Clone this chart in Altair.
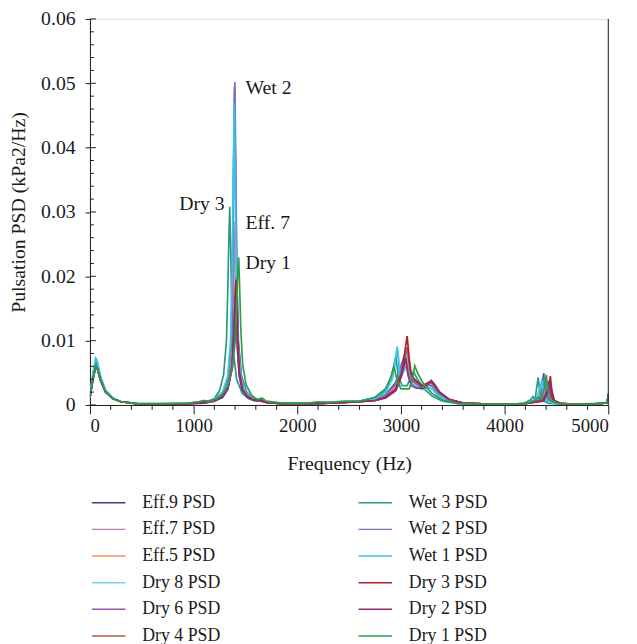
import altair as alt
import pandas as pd

SERIES = ["Eff.9 PSD", "Eff.7 PSD", "Eff.5 PSD", "Dry 8 PSD", "Dry 6 PSD", "Dry 4 PSD",
          "Wet 3 PSD", "Wet 2 PSD", "Wet 1 PSD", "Dry 3 PSD", "Dry 2 PSD", "Dry 1 PSD"]
COLORS = ["#33408f", "#c874b0", "#f4945a", "#74d4ea", "#a352b8", "#b8574e",
          "#2a9a80", "#7275ba", "#38c3ea", "#b0202c", "#8e2e74", "#2f9e48"]

EFF9 = [(0, 0.0012), (25, 0.004), (55, 0.0066), (70, 0.0062), (100, 0.0042), (150, 0.0022), (220, 0.0010),
        (300, 0.0005), (450, 0.0002), (700, 0.0001), (950, 0.0002), (1100, 0.0004), (1200, 0.0008),
        (1280, 0.0018), (1330, 0.0040), (1360, 0.0090), (1375, 0.020), (1385, 0.036), (1395, 0.0495),
        (1405, 0.036), (1415, 0.021), (1430, 0.010), (1460, 0.0045), (1510, 0.0020), (1580, 0.0009),
        (1650, 0.0008), (1700, 0.0004), (1850, 0.0002), (2100, 0.0002), (2300, 0.0003), (2450, 0.0004),
        (2600, 0.0005), (2750, 0.0009), (2850, 0.0016), (2950, 0.0035), (3000, 0.0060), (3040, 0.0080),
        (3070, 0.0055), (3100, 0.0040), (3200, 0.0028), (3270, 0.0032), (3300, 0.0030), (3350, 0.0020),
        (3450, 0.0008), (3600, 0.0003), (3900, 0.0001), (4200, 0.0002), (4330, 0.0010), (4360, 0.0030),
        (4378, 0.0049), (4395, 0.0028), (4420, 0.0008), (4500, 0.0002), (4800, 0.0001), (4990, 0.0003),
        (5000, 0.0017)]
EFF7 = [(0, 0.0012), (25, 0.0038), (55, 0.0063), (70, 0.006), (100, 0.0041), (150, 0.0021), (220, 0.001),
        (300, 0.0005), (450, 0.0002), (700, 0.0001), (950, 0.0002), (1100, 0.0004), (1200, 0.0007),
        (1280, 0.0015), (1330, 0.003), (1365, 0.0065), (1380, 0.013), (1390, 0.021), (1400, 0.0285),
        (1410, 0.021), (1420, 0.012), (1435, 0.0065), (1465, 0.003), (1510, 0.0015), (1580, 0.0008),
        (1650, 0.0007), (1700, 0.0004), (1850, 0.0002), (2100, 0.0002), (2300, 0.0003), (2450, 0.0004),
        (2600, 0.0005), (2750, 0.0008), (2850, 0.0014), (2950, 0.003), (3000, 0.005), (3050, 0.0070),
        (3080, 0.005), (3110, 0.0038), (3200, 0.0027), (3280, 0.0033), (3310, 0.003), (3360, 0.0019),
        (3450, 0.0008), (3600, 0.0003), (3900, 0.0001), (4200, 0.0002), (4340, 0.0008), (4390, 0.0025),
        (4410, 0.0035), (4425, 0.0022), (4450, 0.0007), (4520, 0.0002), (4800, 0.0001), (4990, 0.0003),
        (5000, 0.0016)]
EFF5 = [(0, 0.0011), (25, 0.0036), (55, 0.006), (70, 0.0058), (100, 0.004), (150, 0.002), (220, 0.001),
        (300, 0.0005), (450, 0.0002), (700, 0.0001), (950, 0.0002), (1100, 0.0004), (1200, 0.0007),
        (1280, 0.0014), (1330, 0.0028), (1370, 0.006), (1385, 0.010), (1395, 0.015), (1405, 0.018),
        (1415, 0.014), (1425, 0.009), (1440, 0.005), (1470, 0.0025), (1520, 0.0013), (1580, 0.0008),
        (1650, 0.0007), (1700, 0.0004), (1850, 0.0002), (2100, 0.0002), (2300, 0.0003), (2450, 0.0004),
        (2600, 0.0005), (2750, 0.0008), (2850, 0.0013), (2950, 0.0028), (3010, 0.0048), (3055, 0.0065),
        (3085, 0.0048), (3120, 0.0036), (3200, 0.0026), (3285, 0.0031), (3320, 0.0028), (3370, 0.0018),
        (3460, 0.0008), (3600, 0.0003), (3900, 0.0001), (4200, 0.0002), (4350, 0.0007), (4400, 0.0022),
        (4420, 0.003), (4435, 0.002), (4460, 0.0006), (4530, 0.0002), (4800, 0.0001), (4990, 0.0003),
        (5000, 0.0015)]
DRY8 = [(0, 0.0013), (25, 0.0045), (55, 0.0072), (70, 0.0068), (100, 0.0045), (150, 0.0023), (220, 0.0011),
        (300, 0.0005), (450, 0.0002), (700, 0.0001), (950, 0.0002), (1100, 0.0005), (1200, 0.0009),
        (1280, 0.002), (1330, 0.0045), (1357, 0.010), (1372, 0.020), (1382, 0.034), (1392, 0.046),
        (1402, 0.033), (1412, 0.019), (1427, 0.009), (1457, 0.004), (1510, 0.0018), (1580, 0.0009),
        (1650, 0.0009), (1700, 0.0004), (1850, 0.0002), (2100, 0.0002), (2300, 0.0003), (2450, 0.0004),
        (2600, 0.0005), (2750, 0.0009), (2850, 0.0018), (2920, 0.004), (2970, 0.0085), (2995, 0.005),
        (3020, 0.0065), (3050, 0.0083), (3080, 0.0055), (3110, 0.0038), (3200, 0.0026), (3280, 0.003),
        (3310, 0.0027), (3360, 0.0017), (3450, 0.0007), (3600, 0.0003), (3900, 0.0001), (4200, 0.0002),
        (4320, 0.0009), (4355, 0.0028), (4370, 0.0038), (4385, 0.0022), (4410, 0.0007), (4500, 0.0002),
        (4800, 0.0001), (4990, 0.0003), (5000, 0.0017)]
DRY6 = [(0, 0.0011), (25, 0.0037), (55, 0.0061), (70, 0.0058), (100, 0.004), (150, 0.002), (220, 0.001),
        (300, 0.0005), (450, 0.0002), (700, 0.0001), (950, 0.0002), (1100, 0.0003), (1200, 0.0006),
        (1280, 0.0012), (1330, 0.0025), (1370, 0.0055), (1385, 0.009), (1395, 0.013), (1405, 0.015),
        (1415, 0.012), (1425, 0.008), (1440, 0.0045), (1470, 0.0022), (1520, 0.0012), (1580, 0.0007),
        (1650, 0.0006), (1700, 0.0004), (1850, 0.0002), (2100, 0.0002), (2300, 0.0003), (2450, 0.0004),
        (2600, 0.0005), (2750, 0.0007), (2850, 0.0011), (2950, 0.0022), (3000, 0.0042), (3045, 0.0072),
        (3075, 0.0045), (3100, 0.0034), (3150, 0.0028), (3220, 0.0027), (3290, 0.0038), (3320, 0.0032),
        (3370, 0.002), (3460, 0.0009), (3600, 0.0003), (3900, 0.0001), (4200, 0.0002), (4360, 0.0007),
        (4405, 0.0022), (4425, 0.003), (4440, 0.0018), (4470, 0.0005), (4540, 0.0002), (4800, 0.0001),
        (4990, 0.0003), (5000, 0.0015)]
DRY4 = [(0, 0.0011), (25, 0.0036), (55, 0.006), (70, 0.0057), (100, 0.0039), (150, 0.002), (220, 0.001),
        (300, 0.0005), (450, 0.0002), (700, 0.0001), (950, 0.0002), (1100, 0.0004), (1200, 0.0007),
        (1280, 0.0013), (1330, 0.0025), (1375, 0.006), (1390, 0.011), (1400, 0.016), (1410, 0.020),
        (1420, 0.015), (1430, 0.0095), (1445, 0.005), (1475, 0.0024), (1520, 0.0013), (1580, 0.0008),
        (1650, 0.0007), (1700, 0.0004), (1850, 0.0002), (2100, 0.0002), (2300, 0.0003), (2450, 0.0004),
        (2600, 0.0005), (2750, 0.0007), (2850, 0.0012), (2950, 0.0024), (3010, 0.0048), (3060, 0.0090),
        (3085, 0.0055), (3110, 0.0040), (3200, 0.0028), (3290, 0.0035), (3320, 0.0030), (3370, 0.0019),
        (3460, 0.0008), (3600, 0.0003), (3900, 0.0001), (4200, 0.0002), (4380, 0.0006), (4425, 0.0024),
        (4440, 0.0035), (4455, 0.002), (4480, 0.0006), (4550, 0.0002), (4800, 0.0001), (4990, 0.0003),
        (5000, 0.0016)]
WET3 = [(0, 0.0012), (25, 0.0037), (55, 0.006), (70, 0.0058), (100, 0.004), (150, 0.0021), (220, 0.001),
        (300, 0.0005), (450, 0.0002), (700, 0.0002), (950, 0.0003), (1050, 0.0005), (1100, 0.0006),
        (1150, 0.0005), (1200, 0.001), (1250, 0.0022), (1290, 0.0048), (1317, 0.010), (1330, 0.018),
        (1340, 0.026), (1349, 0.0308), (1358, 0.024), (1368, 0.015), (1385, 0.008), (1415, 0.004),
        (1470, 0.0018), (1540, 0.0009), (1620, 0.0006), (1660, 0.0009), (1700, 0.0005), (1850, 0.0003),
        (2100, 0.0003), (2300, 0.0004), (2450, 0.0005), (2600, 0.0006), (2750, 0.0011), (2850, 0.0022),
        (2905, 0.0042), (2950, 0.0075), (2975, 0.0045), (3010, 0.0030), (3060, 0.0030), (3095, 0.0042),
        (3120, 0.0052), (3160, 0.0040), (3230, 0.0024), (3300, 0.0014), (3400, 0.0006), (3550, 0.0002),
        (3900, 0.0001), (4180, 0.0002), (4250, 0.0008), (4275, 0.0013), (4295, 0.0009), (4312, 0.0030),
        (4324, 0.0043), (4338, 0.0022), (4360, 0.0008), (4420, 0.0003), (4600, 0.0001), (4990, 0.0003),
        (5000, 0.0018)]
WET2 = [(0, 0.0012), (25, 0.0041), (55, 0.0067), (70, 0.0063), (100, 0.0043), (150, 0.0022), (220, 0.001),
        (300, 0.0005), (450, 0.0002), (700, 0.0001), (950, 0.0002), (1100, 0.0004), (1200, 0.0008),
        (1280, 0.0018), (1335, 0.0042), (1363, 0.0095), (1378, 0.021), (1388, 0.037), (1398, 0.0502),
        (1408, 0.036), (1418, 0.020), (1433, 0.0095), (1463, 0.0043), (1515, 0.0019), (1580, 0.0009),
        (1650, 0.0008), (1700, 0.0004), (1850, 0.0002), (2100, 0.0002), (2300, 0.0003), (2450, 0.0004),
        (2600, 0.0005), (2750, 0.0009), (2850, 0.0015), (2950, 0.0033), (3000, 0.0056), (3040, 0.0078),
        (3070, 0.0052), (3100, 0.0038), (3200, 0.0027), (3275, 0.0031), (3305, 0.0029), (3355, 0.0019),
        (3450, 0.0008), (3600, 0.0003), (3900, 0.0001), (4200, 0.0002), (4340, 0.0009), (4370, 0.0028),
        (4385, 0.0047), (4400, 0.0026), (4425, 0.0007), (4500, 0.0002), (4800, 0.0001), (4990, 0.0003),
        (5000, 0.0017)]
WET1 = [(0, 0.0013), (25, 0.0046), (55, 0.0073), (70, 0.0069), (100, 0.0046), (150, 0.0023), (220, 0.0011),
        (300, 0.0005), (450, 0.0002), (700, 0.0001), (950, 0.0002), (1100, 0.0005), (1200, 0.0009),
        (1280, 0.002), (1330, 0.0045), (1358, 0.010), (1373, 0.021), (1383, 0.035), (1393, 0.047),
        (1403, 0.034), (1413, 0.019), (1428, 0.009), (1458, 0.004), (1510, 0.0018), (1580, 0.0009),
        (1650, 0.0009), (1700, 0.0004), (1850, 0.0002), (2100, 0.0002), (2300, 0.0003), (2450, 0.0004),
        (2600, 0.0005), (2750, 0.0009), (2850, 0.002), (2920, 0.0045), (2965, 0.0091), (2985, 0.0045),
        (3015, 0.0048), (3050, 0.0060), (3080, 0.0042), (3110, 0.0032), (3200, 0.0024), (3270, 0.0027),
        (3300, 0.0025), (3350, 0.0016), (3450, 0.0007), (3600, 0.0003), (3900, 0.0001), (4200, 0.0002),
        (4310, 0.001), (4345, 0.0028), (4360, 0.0040), (4375, 0.0022), (4400, 0.0007), (4480, 0.0002),
        (4800, 0.0001), (4990, 0.0003), (5000, 0.0017)]
DRY3 = [(0, 0.0011), (25, 0.0036), (55, 0.006), (70, 0.0057), (100, 0.0039), (150, 0.002), (220, 0.001),
        (300, 0.0005), (450, 0.0002), (700, 0.0001), (950, 0.0002), (1100, 0.0005), (1150, 0.0006),
        (1200, 0.0008), (1280, 0.0013), (1330, 0.0025), (1373, 0.006), (1388, 0.011), (1398, 0.016),
        (1408, 0.0195), (1418, 0.015), (1428, 0.0095), (1443, 0.005), (1473, 0.0024), (1520, 0.0013),
        (1580, 0.0008), (1650, 0.0008), (1700, 0.0004), (1850, 0.0002), (2100, 0.0002), (2300, 0.0003),
        (2450, 0.0004), (2600, 0.0005), (2750, 0.0007), (2850, 0.0012), (2950, 0.0025), (3010, 0.0052),
        (3040, 0.0085), (3060, 0.0107), (3080, 0.0072), (3100, 0.0048), (3130, 0.0040), (3200, 0.0030),
        (3290, 0.0037), (3320, 0.0032), (3370, 0.002), (3460, 0.0009), (3600, 0.0003), (3900, 0.0001),
        (4200, 0.0002), (4380, 0.0007), (4425, 0.0025), (4441, 0.0045), (4456, 0.0022), (4480, 0.0007),
        (4550, 0.0002), (4800, 0.0001), (4990, 0.0003), (5000, 0.0016)]
DRY2 = [(0, 0.0011), (25, 0.0036), (55, 0.006), (70, 0.0057), (100, 0.0039), (150, 0.002), (220, 0.001),
        (300, 0.0005), (450, 0.0002), (700, 0.0001), (950, 0.0002), (1100, 0.0003), (1200, 0.0006),
        (1280, 0.0012), (1330, 0.0025), (1369, 0.0058), (1384, 0.0095), (1394, 0.014), (1404, 0.017),
        (1414, 0.013), (1424, 0.0085), (1439, 0.0048), (1469, 0.0023), (1520, 0.0012), (1580, 0.0007),
        (1650, 0.0006), (1700, 0.0004), (1850, 0.0002), (2100, 0.0002), (2300, 0.0003), (2450, 0.0004),
        (2600, 0.0005), (2750, 0.0007), (2850, 0.0011), (2950, 0.0023), (3005, 0.0045), (3045, 0.0073),
        (3070, 0.0045), (3100, 0.0030), (3150, 0.0026), (3220, 0.0026), (3295, 0.0038), (3325, 0.0032),
        (3375, 0.002), (3465, 0.0009), (3600, 0.0003), (3900, 0.0001), (4200, 0.0002), (4370, 0.0007),
        (4415, 0.0024), (4430, 0.0038), (4445, 0.002), (4470, 0.0006), (4540, 0.0002), (4800, 0.0001),
        (4990, 0.0003), (5000, 0.0015)]
DRY1 = [(0, 0.0012), (25, 0.0037), (55, 0.006), (70, 0.0058), (100, 0.004), (150, 0.0021), (220, 0.001),
        (300, 0.0005), (450, 0.0002), (700, 0.0002), (950, 0.0003), (1050, 0.0005), (1100, 0.0007),
        (1150, 0.0005), (1200, 0.0008), (1270, 0.0015), (1330, 0.0030), (1375, 0.0058), (1402, 0.010),
        (1417, 0.016), (1427, 0.021), (1435, 0.0229), (1443, 0.019), (1455, 0.012), (1472, 0.0065),
        (1505, 0.0032), (1560, 0.0015), (1620, 0.0008), (1660, 0.0011), (1700, 0.0006), (1850, 0.0003),
        (2100, 0.0003), (2200, 0.0005), (2300, 0.0004), (2450, 0.0006), (2600, 0.0006), (2750, 0.0012),
        (2850, 0.0025), (2900, 0.0042), (2933, 0.0060), (2960, 0.0040), (3000, 0.0025), (3080, 0.0025),
        (3110, 0.0040), (3133, 0.0061), (3160, 0.0050), (3220, 0.0032), (3300, 0.0018), (3400, 0.0008),
        (3550, 0.0002), (3900, 0.0001), (4200, 0.0002), (4290, 0.0007), (4320, 0.0012), (4350, 0.0009),
        (4385, 0.0025), (4403, 0.0047), (4418, 0.0024), (4440, 0.0008), (4520, 0.0002), (4800, 0.0001),
        (4990, 0.0003), (5000, 0.0018)]

DATA = [EFF9, EFF7, EFF5, DRY8, DRY6, DRY4, WET3, WET2, WET1, DRY3, DRY2, DRY1]

ANNOT_LEFT_TEXT = ["Wet 2", "Eff. 7", "Dry 1"]
ANNOT_LEFT_F = [1500, 1500, 1500]
ANNOT_LEFT_V = [0.0493, 0.0282, 0.0220]
ANNOT_RIGHT_TEXT = ["Dry 3"]
ANNOT_RIGHT_F = [1300]
ANNOT_RIGHT_V = [0.0313]

X_MAJOR = [0, 1000, 2000, 3000, 4000, 5000]
X_MINOR = [v for v in range(0, 5001, 200) if v % 1000 != 0]
Y_MAJOR = [0, 0.01, 0.02, 0.03, 0.04, 0.05, 0.06]
Y_MINOR = [round(i * 0.002, 3) for i in range(31) if i % 5 != 0]

FONT = "Liberation Serif"
INK = "#1a1a1a"

rows = []
for name, pts in zip(SERIES, DATA):
    for i, (f, v) in enumerate(pts):
        rows.append({"series": name, "f": f, "v": v, "i": i})
df = pd.DataFrame(rows)

x_scale = alt.Scale(domain=[0, 5000], nice=False)
y_scale = alt.Scale(domain=[0, 0.06], nice=False)

x_axis = alt.Axis(
    title="Frequency (Hz)", values=X_MAJOR, grid=False, format="d", tickSize=9,
    labelOverlap=False, labelFont=FONT, labelFontSize=19, labelColor=INK,
    titleFont=FONT, titleFontSize=20, titleFontWeight="normal", titleColor=INK,
    titlePadding=18, labelPadding=3, domainColor=INK, tickColor=INK,
)
y_axis = alt.Axis(
    title="Pulsation PSD (kPa2/Hz)", values=Y_MAJOR, grid=False, tickSize=5,
    labelExpr="datum.value == 0 ? '0' : format(datum.value, '.2f')",
    labelOverlap=False, labelFont=FONT, labelFontSize=20, labelColor=INK,
    titleFont=FONT, titleFontSize=20, titleFontWeight="normal", titleColor=INK,
    titlePadding=12, labelPadding=10, domainColor=INK, tickColor=INK,
)

lines = alt.Chart(df).mark_line(strokeWidth=1.7, clip=True).encode(
    x=alt.X("f:Q", scale=x_scale, axis=x_axis),
    y=alt.Y("v:Q", scale=y_scale, axis=y_axis),
    color=alt.Color(
        "series:N",
        scale=alt.Scale(domain=SERIES, range=COLORS),
        legend=alt.Legend(
            title=None, orient="none", legendX=1, legendY=472, columns=2,
            symbolType="stroke", symbolSize=1156, symbolStrokeWidth=1.5,
            labelFont=FONT, labelFontSize=18, labelColor=INK, labelOffset=16,
            columnPadding=136, rowPadding=0, padding=0, labelLimit=300,
        ),
    ),
    detail="series:N",
    order="i:Q",
)

# minor ticks on x (below the axis line)
x_minor = alt.Chart(pd.DataFrame({"f": X_MINOR})).mark_rule(
    color=INK, strokeWidth=1, y2Offset=5
).encode(x=alt.X("f:Q", scale=x_scale), y=alt.datum(0, scale=y_scale), y2=alt.datum(0))

# inner ticks on y (minor ticks and inner half of major ticks)
y_minor = alt.Chart(pd.DataFrame({"v": Y_MINOR})).mark_rule(
    color=INK, strokeWidth=1, x2Offset=4
).encode(y=alt.Y("v:Q", scale=y_scale), x=alt.datum(0, scale=x_scale), x2=alt.datum(0))
y_major_in = alt.Chart(pd.DataFrame({"v": Y_MAJOR})).mark_rule(
    color=INK, strokeWidth=1, x2Offset=6
).encode(y=alt.Y("v:Q", scale=y_scale), x=alt.datum(0, scale=x_scale), x2=alt.datum(0))

right_edge = alt.Chart(pd.DataFrame({"f": [5000]})).mark_rule(color=INK, strokeWidth=1).encode(
    x=alt.X("f:Q", scale=x_scale),
    y=alt.datum(0, scale=y_scale),
    y2=alt.datum(0.06),
)

ann_left = alt.Chart(pd.DataFrame({"t": ANNOT_LEFT_TEXT, "f": ANNOT_LEFT_F, "v": ANNOT_LEFT_V})).mark_text(
    align="left", baseline="middle", font=FONT, fontSize=20, color=INK
).encode(x=alt.X("f:Q", scale=x_scale), y=alt.Y("v:Q", scale=y_scale), text="t:N")

ann_right = alt.Chart(pd.DataFrame({"t": ANNOT_RIGHT_TEXT, "f": ANNOT_RIGHT_F, "v": ANNOT_RIGHT_V})).mark_text(
    align="right", baseline="middle", font=FONT, fontSize=20, color=INK
).encode(x=alt.X("f:Q", scale=x_scale), y=alt.Y("v:Q", scale=y_scale), text="t:N")

chart = alt.layer(lines, x_minor, y_minor, y_major_in, right_edge, ann_left, ann_right).properties(
    width=525, height=391,
    autosize=alt.AutoSizeParams(type="none"),
    padding={"left": 83, "top": 7, "right": 21, "bottom": 238},
).configure_view(stroke=None).configure(background="white")

chart.save("out.html", embed_options={"renderer": "svg", "actions": False})
